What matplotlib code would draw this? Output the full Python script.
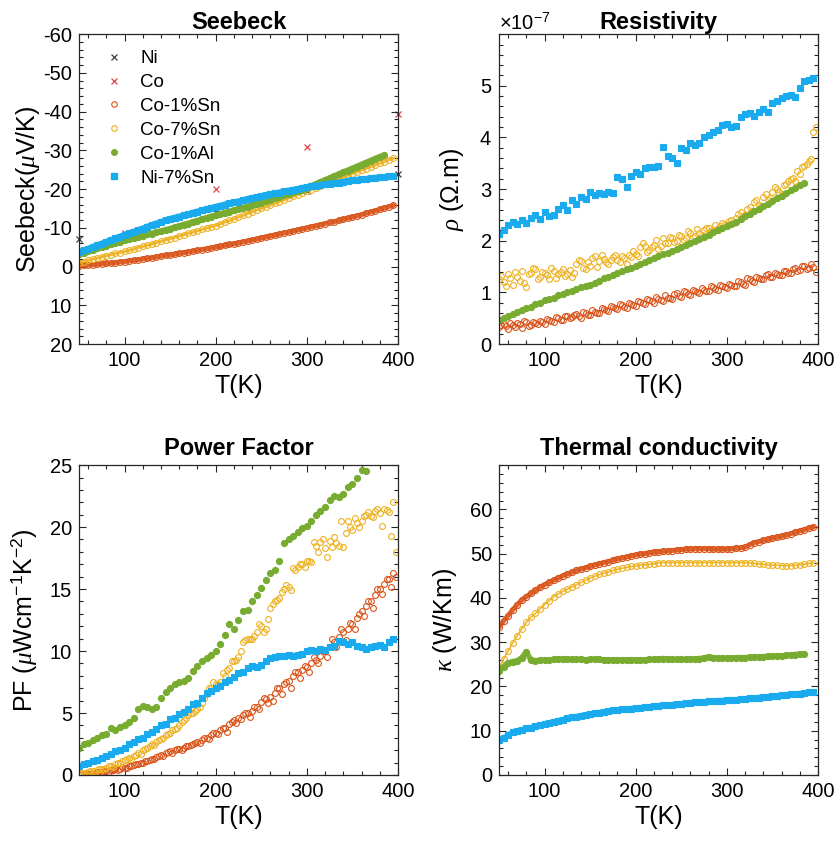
import numpy as np
import matplotlib
matplotlib.use("Agg")
import matplotlib.pyplot as plt
from matplotlib.lines import Line2D
from matplotlib.ticker import MultipleLocator, ScalarFormatter

plt.rcParams['font.family'] = ['Liberation Sans', 'DejaVu Sans']
plt.rcParams['mathtext.fontset'] = 'custom'
plt.rcParams['mathtext.rm'] = 'Liberation Sans'
plt.rcParams['mathtext.it'] = 'Liberation Serif:italic'
plt.rcParams['mathtext.bf'] = 'Liberation Sans:bold'
plt.rcParams['axes.unicode_minus'] = False

# ---------------- data ----------------
labels = ['Ni', 'Co', 'Co-1%Sn', 'Co-7%Sn', 'Co-1%Al', 'Ni-7%Sn']
colors = {'Ni': '#404040', 'Co': '#E0454A', 'Co-1%Sn': '#D95319',
          'Co-7%Sn': '#EDB120', 'Co-1%Al': '#77AC30', 'Ni-7%Sn': '#1AABEF'}

T_full = list(range(50, 400, 5))      # 50 ... 395 K
T_half = [t + 2.5 for t in T_full]    # 52.5 ... 397.5 K (second scan)
T_al = list(range(50, 390, 5))        # 50 ... 385 K
T_al_pf = list(range(50, 370, 5))     # 50 ... 365 K

# Seebeck (uV/K)
T_ni = [50, 100, 200, 300, 400]
S_ni = [-7.0, -8.0, -14.0, -19.5, -24.0]
T_co = [100, 200, 300, 400]
S_co = [-8.7, -20.0, -31.0, -39.5]
S_co1sn = [-0.2, -0.3, -0.4, -0.5, -0.6, -0.7, -0.8, -0.9, -1.0, -1.2,
           -1.3, -1.5, -1.6, -1.8, -2.0, -2.1, -2.3, -2.5, -2.7, -2.9,
           -3.0, -3.2, -3.4, -3.6, -3.8, -4.0, -4.2, -4.4, -4.6, -4.8,
           -5.0, -5.2, -5.5, -5.7, -5.9, -6.1, -6.4, -6.6, -6.9, -7.1,
           -7.4, -7.6, -7.9, -8.1, -8.4, -8.7, -8.9, -9.2, -9.5, -9.7,
           -10.0, -10.3, -10.5, -10.8, -11.1, -11.4, -11.6, -11.9, -12.2, -12.5,
           -12.8, -13.1, -13.4, -13.8, -14.1, -14.4, -14.8, -15.1, -15.5, -15.8]
S_co7sn = [-1.0, -1.3, -1.6, -1.9, -2.2, -2.5, -2.8, -3.1, -3.4, -3.6,
           -3.9, -4.2, -4.5, -4.9, -5.2, -5.5, -5.8, -6.2, -6.5, -6.9,
           -7.2, -7.5, -7.9, -8.2, -8.6, -8.9, -9.2, -9.6, -9.9, -10.3,
           -10.6, -11.0, -11.5, -11.9, -12.3, -12.8, -13.2, -13.7, -14.1, -14.6,
           -15.0, -15.4, -15.9, -16.3, -16.8, -17.2, -17.7, -18.1, -18.6, -19.0,
           -19.5, -19.9, -20.4, -20.8, -21.3, -21.7, -22.2, -22.6, -23.1, -23.5,
           -24.0, -24.4, -24.9, -25.3, -25.8, -26.2, -26.7, -27.1, -27.6, -28.0]
S_co1al = [-3.2, -3.6, -4.0, -4.3, -4.7, -5.0, -5.4, -5.7, -6.1, -6.4,
           -6.8, -7.1, -7.4, -7.7, -8.0, -8.3, -8.5, -8.8, -9.1, -9.4,
           -9.7, -10.1, -10.4, -10.8, -11.1, -11.5, -11.8, -12.2, -12.5, -12.9,
           -13.2, -13.5, -13.9, -14.2, -14.5, -14.8, -15.2, -15.5, -15.8, -16.2,
           -16.5, -16.9, -17.3, -17.6, -18.0, -18.4, -18.8, -19.2, -19.5, -19.9,
           -20.3, -20.8, -21.3, -21.8, -22.3, -22.8, -23.3, -23.8, -24.3, -24.8,
           -25.3, -25.8, -26.3, -26.8, -27.3, -27.8, -28.3, -28.7]
S_ni7sn = [-3.7, -4.2, -4.6, -5.0, -5.5, -5.9, -6.4, -6.8, -7.3, -7.7,
           -8.2, -8.6, -9.0, -9.4, -9.8, -10.3, -10.7, -11.1, -11.5, -11.9,
           -12.3, -12.6, -12.9, -13.2, -13.5, -13.9, -14.2, -14.5, -14.8, -15.1,
           -15.4, -15.7, -16.0, -16.3, -16.6, -16.8, -17.1, -17.4, -17.7, -17.9,
           -18.2, -18.4, -18.7, -18.9, -19.1, -19.4, -19.6, -19.8, -20.0, -20.3,
           -20.5, -20.7, -20.9, -21.0, -21.2, -21.4, -21.6, -21.7, -21.9, -22.1,
           -22.3, -22.4, -22.5, -22.6, -22.8, -22.9, -23.0, -23.1, -23.3, -23.4]

# Resistivity (x 1e-7 Ohm.m)
R_ni7sn = [2.14, 2.20, 2.30, 2.37, 2.33, 2.40, 2.35, 2.45, 2.50, 2.42,
           2.55, 2.48, 2.50, 2.62, 2.70, 2.60, 2.78, 2.72, 2.85, 2.80,
           2.95, 2.88, 2.92, 2.90, 2.95, 2.92, 3.24, 3.20, 3.05, 3.25,
           3.33, 3.30, 3.40, 3.42, 3.43, 3.45, 3.82, 3.65, 3.60, 3.50,
           3.80, 3.75, 3.90, 3.85, 3.90, 4.00, 4.05, 4.10, 4.15, 4.25,
           4.27, 4.20, 4.22, 4.40, 4.45, 4.48, 4.42, 4.50, 4.55, 4.50,
           4.66, 4.70, 4.76, 4.80, 4.82, 4.78, 4.95, 5.10, 5.12, 5.15]
R_co7sn = [1.26, 1.20, 1.35, 1.15, 1.30, 1.42, 1.10, 1.38, 1.45, 1.30,
           1.38, 1.25, 1.42, 1.36, 1.45, 1.35, 1.30, 1.55, 1.60, 1.45,
           1.52, 1.70, 1.60, 1.65, 1.55, 1.68, 1.62, 1.70, 1.55, 1.68,
           1.75, 1.88, 1.90, 1.82, 1.92, 1.85, 2.05, 1.95, 2.05, 2.00,
           2.10, 2.05, 2.15, 2.10, 2.15, 2.20, 2.25, 2.20, 2.25, 2.35,
           2.30, 2.40, 2.45, 2.55, 2.50, 2.65, 2.75, 2.70, 2.85, 2.78,
           2.95, 3.00, 2.90, 3.10, 3.20, 3.15, 3.30, 3.45, 3.55, 4.10]
R_co7sn_b = [1.32, 1.12, 1.28, 1.40, 1.22, 1.18, 1.35, 1.48, 1.25, 1.40,
             1.33, 1.47, 1.28, 1.40, 1.32, 1.43, 1.38, 1.62, 1.48, 1.58,
             1.66, 1.50, 1.72, 1.58, 1.63, 1.72, 1.58, 1.66, 1.72, 1.80,
             1.70, 1.95, 1.78, 1.88, 2.02, 1.90, 1.96, 2.08, 1.98, 2.12,
             2.02, 2.18, 2.08, 2.22, 2.12, 2.25, 2.18, 2.30, 2.28, 2.32,
             2.38, 2.35, 2.52, 2.48, 2.62, 2.58, 2.78, 2.68, 2.90, 2.82,
             3.05, 2.95, 3.08, 3.15, 3.22, 3.35, 3.42, 3.48, 3.58, 4.20]
R_co1al = [0.47, 0.50, 0.55, 0.58, 0.62, 0.65, 0.70, 0.72, 0.77, 0.80,
           0.85, 0.88, 0.90, 0.94, 0.97, 1.00, 1.03, 1.07, 1.10, 1.12,
           1.15, 1.19, 1.22, 1.27, 1.30, 1.33, 1.37, 1.42, 1.45, 1.48,
           1.52, 1.55, 1.58, 1.62, 1.66, 1.70, 1.74, 1.77, 1.80, 1.84,
           1.87, 1.91, 1.95, 2.00, 2.04, 2.08, 2.12, 2.16, 2.20, 2.24,
           2.28, 2.33, 2.37, 2.42, 2.47, 2.52, 2.57, 2.62, 2.67, 2.72,
           2.77, 2.82, 2.87, 2.93, 2.98, 3.03, 3.08, 3.12]
R_co1sn = [0.33, 0.38, 0.30, 0.36, 0.40, 0.32, 0.42, 0.37, 0.40, 0.45,
           0.38, 0.46, 0.42, 0.50, 0.47, 0.55, 0.52, 0.58, 0.50, 0.60,
           0.57, 0.63, 0.60, 0.68, 0.64, 0.72, 0.68, 0.75, 0.70, 0.78,
           0.74, 0.82, 0.78, 0.85, 0.80, 0.88, 0.84, 0.90, 0.87, 0.98,
           0.92, 1.00, 0.95, 1.02, 0.98, 1.05, 1.02, 1.10, 1.05, 1.12,
           1.08, 1.15, 1.12, 1.20, 1.15, 1.25, 1.20, 1.28, 1.25, 1.35,
           1.30, 1.36, 1.33, 1.42, 1.38, 1.48, 1.44, 1.52, 1.47, 1.50]
R_co1sn_b = [0.36, 0.34, 0.41, 0.33, 0.38, 0.44, 0.35, 0.43, 0.39, 0.42,
             0.48, 0.44, 0.52, 0.46, 0.55, 0.50, 0.57, 0.54, 0.62, 0.56,
             0.65, 0.61, 0.70, 0.66, 0.73, 0.69, 0.77, 0.72, 0.80, 0.76,
             0.83, 0.79, 0.88, 0.83, 0.91, 0.86, 0.95, 0.90, 0.97, 0.93,
             1.02, 0.97, 1.04, 1.00, 1.08, 1.03, 1.12, 1.07, 1.15, 1.10,
             1.17, 1.13, 1.22, 1.17, 1.27, 1.22, 1.30, 1.26, 1.33, 1.29,
             1.38, 1.34, 1.42, 1.37, 1.46, 1.41, 1.52, 1.46, 1.55, 1.40]

# Power factor (uW cm^-1 K^-2)
P_co1al = [2.2, 2.5, 2.6, 2.8, 3.0, 3.2, 3.3, 3.8, 3.6, 3.9,
           4.0, 4.3, 4.6, 5.3, 5.6, 5.5, 5.3, 5.5, 6.2, 6.7,
           7.0, 7.3, 7.5, 7.6, 7.8, 8.4, 8.8, 9.2, 9.4, 9.7,
           10.0, 10.6, 11.3, 12.2, 11.8, 12.5, 13.2, 13.3, 14.0, 14.5,
           15.1, 15.7, 16.3, 16.5, 17.3, 18.7, 19.0, 19.3, 19.6, 19.9,
           20.1, 20.5, 21.0, 21.3, 21.6, 22.2, 22.5, 22.4, 22.7, 23.2,
           23.5, 24.0, 24.6, 24.5]
P_ni7sn = [0.7, 0.9, 1.0, 1.1, 1.2, 1.4, 1.5, 1.7, 1.9, 2.0,
           2.2, 2.5, 2.7, 2.9, 3.0, 3.3, 3.5, 3.7, 4.0, 4.1,
           4.5, 4.6, 4.9, 5.1, 5.3, 5.7, 5.8, 6.2, 6.6, 6.8,
           7.0, 7.2, 7.5, 7.7, 7.9, 8.2, 8.3, 8.6, 8.8, 8.7,
           8.9, 9.2, 9.4, 9.5, 9.6, 9.6, 9.7, 9.6, 9.7, 9.8,
           10.0, 10.1, 10.0, 10.2, 10.1, 10.3, 10.4, 10.8, 10.7, 10.6,
           10.7, 10.4, 10.3, 10.2, 10.3, 10.4, 10.5, 10.3, 10.7, 11.0]
P_co7sn = [0.1, 0.15, 0.2, 0.3, 0.4, 0.5, 0.6, 0.75, 0.9, 1.0,
           1.2, 1.4, 1.5, 1.8, 2.0, 2.2, 2.5, 2.7, 2.9, 3.2,
           3.4, 3.7, 4.0, 4.4, 4.8, 5.0, 5.3, 5.8, 6.5, 7.0,
           7.3, 7.5, 8.0, 8.6, 9.2, 9.5, 10.7, 11.0, 11.0, 11.5,
           12.0, 11.8, 13.5, 14.0, 14.3, 15.0, 15.2, 16.7, 16.8, 17.0,
           17.3, 17.2, 18.5, 18.8, 18.3, 18.9, 19.2, 18.5, 18.4, 20.5,
           19.8, 20.3, 20.5, 21.0, 20.9, 21.3, 21.1, 21.5, 21.2, 22.0]
P_co7sn_b = [0.15, 0.1, 0.3, 0.25, 0.45, 0.5, 0.7, 0.65, 0.95, 1.1,
             1.3, 1.25, 1.6, 1.7, 2.1, 2.3, 2.4, 2.8, 3.0, 3.3,
             3.6, 3.8, 4.3, 4.6, 5.0, 5.2, 5.5, 6.2, 7.0, 7.5,
             7.3, 8.2, 8.5, 9.2, 9.3, 10.0, 10.9, 11.0, 11.2, 12.2,
             11.5, 12.6, 13.8, 14.1, 14.8, 15.3, 14.9, 16.5, 17.0, 16.8,
             17.3, 18.8, 18.0, 19.0, 17.6, 18.4, 18.7, 20.5, 19.5, 20.0,
             20.7, 20.0, 20.9, 21.2, 20.8, 21.5, 20.1, 21.4, 19.3, 18.0]
P_co1sn = [0.05, 0.07, 0.1, 0.15, 0.2, 0.25, 0.3, 0.38, 0.45, 0.5,
           0.6, 0.7, 0.8, 0.9, 1.0, 1.15, 1.3, 1.45, 1.6, 1.75,
           1.9, 2.0, 2.1, 2.2, 2.3, 2.5, 2.7, 2.85, 3.0, 3.2,
           3.4, 3.6, 3.8, 4.1, 4.4, 4.6, 4.8, 5.0, 5.2, 5.5,
           5.9, 6.1, 6.3, 6.6, 7.0, 7.3, 7.6, 8.0, 8.3, 8.5,
           8.7, 9.0, 9.3, 9.6, 10.0, 10.3, 10.7, 11.1, 11.5, 11.8,
           12.2, 12.7, 13.2, 13.6, 14.0, 14.5, 15.0, 15.4, 15.8, 16.3]
P_co1sn_b = [0.03, 0.12, 0.08, 0.18, 0.22, 0.3, 0.28, 0.42, 0.4, 0.62,
             0.55, 0.75, 0.85, 0.95, 1.1, 1.2, 1.25, 1.5, 1.55, 1.85,
             1.8, 2.1, 2.05, 2.3, 2.45, 2.6, 2.55, 3.0, 2.9, 3.35,
             3.3, 3.8, 3.5, 4.3, 4.2, 4.5, 5.0, 4.7, 5.5, 5.3,
             6.2, 5.8, 6.0, 7.0, 6.5, 7.5, 7.0, 8.3, 7.8, 8.8,
             8.3, 9.5, 9.0, 10.0, 9.5, 11.0, 10.3, 11.8, 10.9, 12.3,
             11.8, 13.0, 12.8, 14.0, 13.5, 15.0, 14.6, 15.8, 15.2, 16.0]

# Thermal conductivity (W/Km)
K_co1sn = [33.4, 34.8, 36.0, 37.3, 38.5, 39.5, 40.3, 41.0, 41.7, 42.4,
           43.0, 43.5, 44.0, 44.5, 45.0, 45.4, 45.8, 46.2, 46.5, 46.8,
           47.1, 47.4, 47.7, 48.0, 48.2, 48.5, 48.8, 49.0, 49.2, 49.5,
           49.7, 49.9, 50.0, 50.2, 50.3, 50.4, 50.5, 50.6, 50.7, 50.8,
           50.9, 51.0, 51.0, 51.1, 51.1, 51.1, 51.1, 51.0, 51.0, 51.0,
           51.0, 51.1, 51.2, 51.3, 51.5, 52.0, 52.5, 52.7, 53.0, 53.2,
           53.5, 53.7, 53.9, 54.2, 54.5, 54.8, 55.1, 55.4, 55.8, 56.0]
K_co7sn = [24.0, 26.2, 28.0, 29.8, 31.5, 33.0, 34.5, 35.6, 36.5, 37.5,
           38.5, 39.4, 40.3, 40.9, 41.5, 42.0, 42.5, 43.0, 43.5, 44.0,
           44.5, 44.9, 45.3, 45.6, 45.9, 46.2, 46.5, 46.7, 46.9, 47.1,
           47.2, 47.4, 47.5, 47.6, 47.7, 47.9, 48.0, 48.0, 48.0, 48.0,
           48.0, 48.0, 48.0, 48.0, 48.0, 48.0, 48.0, 48.0, 48.0, 48.0,
           48.0, 48.0, 48.0, 48.0, 48.0, 47.9, 47.8, 47.7, 47.6, 47.5,
           47.4, 47.4, 47.3, 47.3, 47.3, 47.4, 47.5, 47.6, 47.8, 48.0]
K_co1al = [23.5, 24.5, 25.3, 25.6, 25.8, 26.5, 27.8, 26.0, 25.8, 25.9,
           26.0, 26.0, 26.1, 26.2, 26.2, 26.2, 26.1, 26.1, 26.1, 26.0,
           26.1, 26.2, 26.1, 26.0, 26.0, 26.0, 26.0, 26.0, 26.0, 26.0,
           26.0, 26.0, 26.0, 26.1, 26.1, 26.2, 26.3, 26.2, 26.1, 26.1,
           26.1, 26.1, 26.2, 26.2, 26.3, 26.4, 26.7, 26.5, 26.4, 26.4,
           26.4, 26.4, 26.5, 26.5, 26.5, 26.6, 26.6, 26.7, 26.7, 26.8,
           26.8, 26.9, 26.9, 27.0, 27.1, 27.2, 27.3, 27.3]
K_ni7sn = [8.0, 8.3, 9.0, 9.6, 10.0, 10.2, 10.5, 10.7, 11.0, 11.2,
           11.5, 11.8, 12.0, 12.3, 12.5, 12.8, 13.0, 13.2, 13.4, 13.6,
           13.8, 14.0, 14.1, 14.3, 14.4, 14.6, 14.7, 14.8, 14.9, 15.0,
           15.1, 15.2, 15.3, 15.4, 15.5, 15.6, 15.7, 15.8, 15.9, 16.0,
           16.1, 16.2, 16.3, 16.4, 16.5, 16.5, 16.6, 16.7, 16.8, 16.8,
           16.9, 17.0, 17.0, 17.1, 17.2, 17.3, 17.4, 17.5, 17.6, 17.7,
           17.8, 17.9, 18.0, 18.1, 18.2, 18.3, 18.4, 18.5, 18.7, 18.8]

# ---------------- styling helpers ----------------
FS_TICK = 14.5
FS_LEG = 13.5
FS_LAB = 18
FS_TITLE = 17
AXC = '#262626'


def style(ax, ymaj, ymin, ylim):
    ax.set_xlim(50, 400)
    ax.set_ylim(*ylim)
    ax.xaxis.set_major_locator(MultipleLocator(100))
    ax.xaxis.set_minor_locator(MultipleLocator(20))
    ax.yaxis.set_major_locator(MultipleLocator(ymaj))
    ax.yaxis.set_minor_locator(MultipleLocator(ymin))
    ax.tick_params(which='both', direction='in', top=True, right=True,
                   colors=AXC, labelcolor='black', labelsize=FS_TICK, width=0.8)
    ax.tick_params(which='major', length=5, pad=5)
    ax.tick_params(which='minor', length=3)
    for s in ax.spines.values():
        s.set_color(AXC)
        s.set_linewidth(0.9)
    ax.set_xlabel('T(K)', fontsize=FS_LAB, labelpad=3)


def band(ax, x, y, c, marker, ms, filled, lw):
    x = np.asarray(x, float)
    y = np.asarray(y, float)
    if lw > 0:
        ax.plot(x, y, '-', color=c, lw=lw, alpha=0.9, solid_capstyle='round')
    ax.plot(x, y, linestyle='none', marker=marker, ms=ms,
            mfc=(c if filled else 'none'), mec=c, mew=0.8)


def scatter(ax, x, y, c, marker, ms, filled, scale=1.0):
    x = np.asarray(x, float)
    y = np.asarray(y, float) * scale
    ax.plot(x, y, linestyle='none', marker=marker, ms=ms,
            mfc=(c if filled else 'none'), mec=c, mew=0.8)


fig = plt.figure(figsize=(8.35, 8.42), dpi=100)
L1, L2, W = 0.0946, 0.5976, 0.382
B_top, B_bot, H = 0.5914, 0.0796, 0.368

# ---- Seebeck ----
ax1 = fig.add_axes([L1, B_top, W, H])
band(ax1, T_full, S_co1sn, colors['Co-1%Sn'], 'o', 4.2, False, 3.5)
band(ax1, T_full, S_co7sn, colors['Co-7%Sn'], 'o', 4.2, False, 2.0)
band(ax1, T_al, S_co1al, colors['Co-1%Al'], 'o', 4.4, True, 4.5)
band(ax1, T_full, S_ni7sn, colors['Ni-7%Sn'], 's', 4.2, True, 4.5)
ax1.plot(T_ni, S_ni, linestyle='none', marker='x', ms=5, mew=0.9,
         color=colors['Ni'], clip_on=False, zorder=1)
ax1.plot(T_co, S_co, linestyle='none', marker='x', ms=5, mew=0.9,
         color=colors['Co'], clip_on=False, zorder=1)
style(ax1, 10, 2, (20, -60))
ax1.set_ylabel('Seebeck($\\mu$V/K)', fontsize=FS_LAB, labelpad=1)
ax1.set_title('Seebeck', fontsize=FS_TITLE, fontweight='bold', pad=3)

handles = [
    Line2D([], [], linestyle='none', marker='x', ms=5, mew=0.9, color=colors['Ni']),
    Line2D([], [], linestyle='none', marker='x', ms=5, mew=0.9, color=colors['Co']),
    Line2D([], [], linestyle='none', marker='o', ms=4, mfc='none', mec=colors['Co-1%Sn'], mew=0.8),
    Line2D([], [], linestyle='none', marker='o', ms=4, mfc='none', mec=colors['Co-7%Sn'], mew=0.8),
    Line2D([], [], linestyle='none', marker='o', ms=4, mfc=colors['Co-1%Al'], mec=colors['Co-1%Al']),
    Line2D([], [], linestyle='none', marker='s', ms=4, mfc=colors['Ni-7%Sn'], mec=colors['Ni-7%Sn']),
]
ax1.legend(handles, labels, loc='upper left', frameon=False, fontsize=FS_LEG,
           handlelength=1.2, handletextpad=0.8, labelspacing=0.36,
           borderaxespad=0.2, bbox_to_anchor=(0.04, 0.985))

# ---- Resistivity ----
ax2 = fig.add_axes([L2, B_top, W, H])
sc = 1e-7
scatter(ax2, T_full, R_co1sn, colors['Co-1%Sn'], 'o', 4.2, False, sc)
scatter(ax2, T_half, R_co1sn_b, colors['Co-1%Sn'], 'o', 4.2, False, sc)
scatter(ax2, T_full, R_co7sn, colors['Co-7%Sn'], 'o', 4.2, False, sc)
scatter(ax2, T_half, R_co7sn_b, colors['Co-7%Sn'], 'o', 4.2, False, sc)
scatter(ax2, T_al, R_co1al, colors['Co-1%Al'], 'o', 4.4, True, sc)
scatter(ax2, T_full, R_ni7sn, colors['Ni-7%Sn'], 's', 4.2, True, sc)
style(ax2, 1e-7, 0.2e-7, (0, 6e-7))
fmt = ScalarFormatter(useMathText=True)
fmt.set_powerlimits((-3, 3))
ax2.yaxis.set_major_formatter(fmt)
ax2.yaxis.get_offset_text().set_fontsize(FS_TICK)
ax2.set_yticks([0, 1e-7, 2e-7, 3e-7, 4e-7, 5e-7])
ax2.set_ylabel('$\\rho$ ($\\Omega$.m)', fontsize=FS_LAB, labelpad=10)
ax2.set_title('Resistivity', fontsize=FS_TITLE, fontweight='bold', pad=3)

# ---- Power factor ----
ax3 = fig.add_axes([L1, B_bot, W, H])
scatter(ax3, T_full, P_co1sn, colors['Co-1%Sn'], 'o', 4.2, False)
scatter(ax3, T_half, P_co1sn_b, colors['Co-1%Sn'], 'o', 4.2, False)
scatter(ax3, T_full, P_co7sn, colors['Co-7%Sn'], 'o', 4.2, False)
scatter(ax3, T_half, P_co7sn_b, colors['Co-7%Sn'], 'o', 4.2, False)
scatter(ax3, T_al_pf, P_co1al, colors['Co-1%Al'], 'o', 4.4, True)
scatter(ax3, T_full, P_ni7sn, colors['Ni-7%Sn'], 's', 4.2, True)
style(ax3, 5, 1, (0, 25))
ax3.set_ylabel('PF ($\\mu$Wcm$^{-1}$K$^{-2}$)', fontsize=FS_LAB, labelpad=8)
ax3.set_title('Power Factor', fontsize=FS_TITLE, fontweight='bold', pad=7)

# ---- Thermal conductivity ----
ax4 = fig.add_axes([L2, B_bot, W, H])
band(ax4, T_full, K_co1sn, colors['Co-1%Sn'], 'o', 4.4, False, 3.5)
band(ax4, T_full, K_co7sn, colors['Co-7%Sn'], 'o', 4.2, False, 1.2)
band(ax4, T_al, K_co1al, colors['Co-1%Al'], 'o', 4.4, True, 4.0)
band(ax4, T_full, K_ni7sn, colors['Ni-7%Sn'], 's', 4.2, True, 4.0)
style(ax4, 10, 2, (0, 70))
ax4.set_yticks([0, 10, 20, 30, 40, 50, 60])
ax4.set_ylabel('$\\kappa$ (W/Km)', fontsize=FS_LAB, labelpad=8)
ax4.set_title('Thermal conductivity', fontsize=FS_TITLE, fontweight='bold', pad=7)

fig.savefig('out.png', dpi=100)
